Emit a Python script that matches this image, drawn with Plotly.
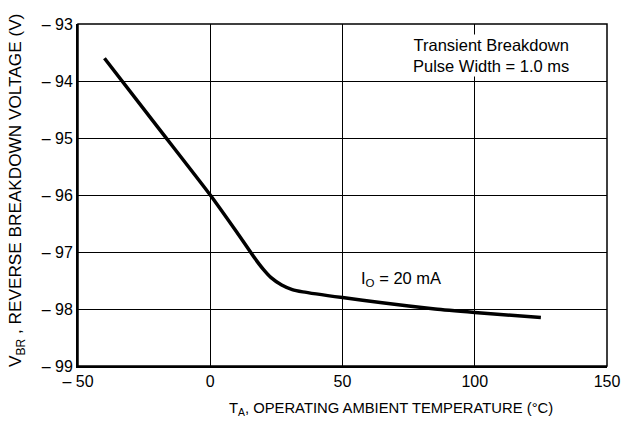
import plotly.graph_objects as go

# Data
temp_c = [-40, -20, 0, 10, 17, 20, 23, 27, 31, 35, 50, 65, 85, 100, 125]
v_br = [-93.6, -94.8, -96.0, -96.65, -97.12, -97.3, -97.45, -97.58, -97.66, -97.7, -97.8, -97.89, -98.0, -98.06, -98.15]

x_ticks = [-50, 0, 50, 100, 150]
x_tick_text = ["\u2013 50", "0", "50", "100", "150"]
y_ticks = [-93, -94, -95, -96, -97, -98, -99]
y_tick_text = ["\u2013 93", "\u2013 94", "\u2013 95", "\u2013 96", "\u2013 97", "\u2013 98", "\u2013 99"]

FONT = "Liberation Sans, Arial, sans-serif"
FS = 16

fig = go.Figure()
fig.add_trace(go.Scatter(
    x=temp_c, y=v_br, mode="lines",
    line=dict(color="black", width=3.5, shape="spline", smoothing=0.6),
    showlegend=False, hoverinfo="skip",
))

fig.update_layout(
    width=624, height=428,
    margin=dict(l=78, r=17, t=24, b=62),
    paper_bgcolor="white", plot_bgcolor="white",
    font=dict(family=FONT, color="black", size=FS),
    xaxis=dict(
        range=[-50, 150], tickvals=x_ticks, ticktext=x_tick_text,
        showgrid=True, gridcolor="black", gridwidth=1,
        zeroline=False, showline=True, linecolor="black", linewidth=2,
        ticks="", tickfont=dict(size=FS, family=FONT), automargin=False,
    ),
    yaxis=dict(
        range=[-99, -93], tickvals=y_ticks, ticktext=y_tick_text,
        showgrid=True, gridcolor="black", gridwidth=1,
        zeroline=False, showline=True, linecolor="black", linewidth=2,
        ticks="", tickfont=dict(size=FS, family=FONT), automargin=False,
    ),
    shapes=[dict(type="rect", xref="paper", yref="paper", x0=0, y0=0, x1=1, y1=1,
                 line=dict(color="black", width=1.5), layer="above")],
    annotations=[
        dict(x=106, y=-93.56, xref="x", yref="y",
             text="Transient Breakdown<br>Pulse Width = 1.0 ms",
             showarrow=False, align="center", bgcolor="white",
             font=dict(size=16.5, family=FONT)),
        dict(x=72, y=-97.47, xref="x", yref="y",
             text="I<sub>O</sub> = 20 mA",
             showarrow=False, align="center",
             font=dict(size=16.5, family=FONT)),
        dict(x=68.5, y=0, xref="x", yref="paper", yanchor="middle",
             yshift=-43,
             text="T<sub>A</sub>, OPERATING AMBIENT TEMPERATURE (\u00b0C)",
             showarrow=False, font=dict(size=14.8, family=FONT)),
        dict(x=0, y=0.512, xref="paper", yref="paper", xanchor="center",
             xshift=-61, textangle=-90,
             text="V<sub>BR</sub> , REVERSE BREAKDOWN VOLTAGE (V)",
             showarrow=False, font=dict(size=17.2, family=FONT)),
    ],
)

fig.write_html(
    "out.html",
    config={"displayModeBar": False},
    post_script="document.body.style.margin='0';document.body.style.overflow='hidden';",
)
